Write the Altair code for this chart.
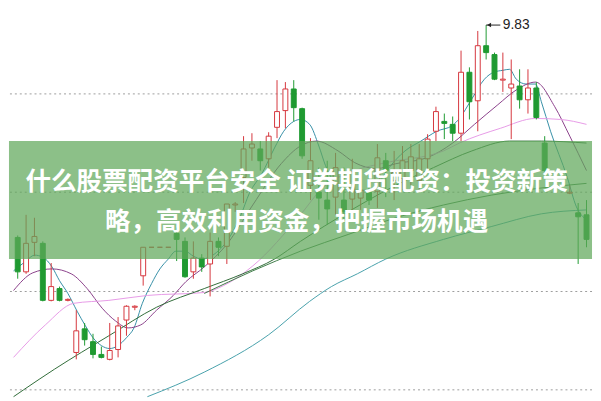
import altair as alt
import pandas as pd

# ---------------- data (prices) ----------------
cand_idx = list(range(64)) + [66, 67, 68]
opens = [8.75, 8.575, 8.725, 8.72, 8.43, 8.49, 8.43, 8.165, 8.285, 8.22,
         8.155, 8.13, 8.18, 8.33, 8.395, 8.555, 8.70, 8.70, 8.70, 8.77,
         8.73, 8.575, 8.645, 8.615, 8.73, 8.705, 8.915, 9.055, 9.205, 9.20,
         9.15, 9.31, 9.395, 9.505, 9.405, 9.015, 8.98, 8.94, 8.955, 8.94,
         8.945, 8.95, 8.98, 8.985, 9.14, 9.04, 9.05, 9.09, 9.04, 9.15,
         9.29, 9.34, 9.325, 9.28, 9.59, 9.445, 9.725, 9.68, 9.55, 9.51,
         9.52, 9.45, 9.51, 9.23, 8.975, 8.875, 8.865]
closes = [8.575, 8.72, 8.755, 8.43, 8.50, 8.43, 8.435, 8.275, 8.23, 8.155,
          8.14, 8.175, 8.30, 8.40, 8.40, 8.70, 8.70, 8.70, 8.70, 8.74,
          8.55, 8.645, 8.60, 8.73, 8.70, 8.92, 8.92, 9.20, 9.225, 9.14,
          9.265, 9.39, 9.505, 9.41, 9.165, 9.14, 8.95, 8.895, 9.105, 8.88,
          9.085, 8.99, 8.94, 9.155, 9.09, 9.08, 9.14, 9.16, 9.15, 9.25,
          9.39, 9.33, 9.28, 9.59, 9.44, 9.725, 9.69, 9.555, 9.555, 9.53,
          9.45, 9.51, 9.36, 9.09, 8.98, 8.855, 8.74]
highs = [8.76, 8.865, 8.85, 8.73, 8.62, 8.50, 8.44, 8.38, 8.315, 8.26,
         8.195, 8.315, 8.345, 8.405, 8.405, 8.70, 8.70, 8.70, 8.70, 8.80,
         8.75, 8.73, 8.665, 8.775, 8.75, 8.92, 8.93, 9.265, 9.28, 9.24,
         9.285, 9.55, 9.54, 9.55, 9.41, 9.255, 9.105, 9.14, 9.18, 9.105,
         9.15, 9.065, 9.065, 9.225, 9.18, 9.19, 9.215, 9.225, 9.225, 9.275,
         9.415, 9.38, 9.365, 9.70, 9.615, 9.80, 9.83, 9.69, 9.69, 9.655,
         9.605, 9.605, 9.54, 9.265, 9.015, 8.925, 8.94]
lows = [8.54, 8.565, 8.655, 8.425, 8.425, 8.425, 8.425, 8.13, 8.20, 8.135,
        8.135, 8.125, 8.14, 8.25, 8.38, 8.505, 8.70, 8.70, 8.70, 8.63,
        8.545, 8.54, 8.575, 8.45, 8.655, 8.615, 8.88, 8.925, 9.14, 9.09,
        9.105, 9.255, 9.305, 9.34, 9.15, 8.94, 8.84, 8.815, 8.865, 8.825,
        8.88, 8.89, 8.915, 8.90, 8.955, 8.94, 8.99, 9.015, 8.99, 9.08,
        9.24, 9.25, 9.24, 9.24, 9.35, 9.29, 9.655, 9.55, 9.49, 9.25,
        9.405, 9.38, 9.35, 9.08, 8.97, 8.615, 8.70]

ma5_idx = [-0.5, 1, 2, 3, 4.1, 5, 6, 7.1, 8.1, 9, 10, 11, 12, 13, 13.9, 14.9, 16, 17, 18, 18.9,
           20, 21, 22, 23.8, 25, 26.6, 27.7, 29.2, 30.7, 31.8, 33, 33.8, 34.9, 36, 36.8, 38.3,
           40, 41.7, 42.9, 44.4, 46.3, 48.2, 50.1, 52, 52.8, 54.3, 55.8, 56.9, 58, 58.8, 59.6,
           60.8, 61.9, 62.6, 63.7, 65.7, 66.8, 68]
ma5_val = [8.58, 8.63, 8.66, 8.65, 8.60, 8.53, 8.465, 8.375, 8.30, 8.24, 8.20, 8.185, 8.20, 8.24,
           8.29, 8.415, 8.515, 8.59, 8.64, 8.68, 8.68, 8.655, 8.64, 8.675, 8.73, 8.855, 8.975,
           9.075, 9.205, 9.29, 9.34, 9.35, 9.325, 9.215, 9.115, 9.015, 8.99, 8.99, 9.015, 9.105,
           9.19, 9.24, 9.29, 9.32, 9.355, 9.455, 9.555, 9.59, 9.60, 9.605, 9.555, 9.53, 9.53,
           9.44, 9.29, 9.055, 8.905, 8.84]

ma10_idx = [-0.5, 1.8, 4.1, 6.4, 8.3, 10.1, 11.7, 13.2, 14.7, 16.6, 18.6, 20.1, 22.3, 25.0, 28.1,
            31.5, 33.8, 35.7, 38.3, 40.3, 42.9, 45.2, 48.9, 52.0, 54.6, 57.4, 59.6, 61.9, 64.2,
            66.0, 68.0]
ma10_val = [8.48, 8.57, 8.59, 8.565, 8.49, 8.39, 8.325, 8.29, 8.305, 8.38, 8.455, 8.525, 8.60,
            8.715, 8.915, 9.125, 9.215, 9.24, 9.19, 9.13, 9.10, 9.125, 9.155, 9.23, 9.325, 9.425,
            9.50, 9.54, 9.415, 9.265, 9.09]

ma20_idx = [-0.5, 3.3, 6.7, 10.9, 15.5, 22.3, 24.6, 28.1, 33.8, 36.4, 40.3, 44.0, 50.9, 52.8,
            57.7, 61.9, 64.9, 68.0]
ma20_val = [8.14, 8.305, 8.415, 8.43, 8.455, 8.47, 8.505, 8.605, 8.865, 9.00, 9.09, 9.13, 9.19,
            9.23, 9.305, 9.355, 9.35, 9.325]

ma30_idx = [-0.5, 0.7, 4.4, 10.9, 16.6, 22.3, 26.9, 30.7, 33.8, 39.5, 45.2, 49.7, 54.3, 58.8,
            62.6, 68.0]
ma30_val = [7.94, 7.975, 8.08, 8.25, 8.395, 8.49, 8.565, 8.64, 8.73, 8.88, 9.015, 9.105, 9.19,
            9.24, 9.24, 9.23]

ma60_idx = [22.3, 28.1, 33.8, 39.5, 45.2, 50.9, 56.6, 62.3, 68.0]
ma60_val = [8.465, 8.58, 8.68, 8.765, 8.85, 8.915, 8.965, 9.00, 9.025]

ma120_idx = [15.5, 22.3, 30.0, 34.9, 37.5, 40.6, 44.0, 50.9, 56.6, 62.6, 68.0]
ma120_val = [7.94, 8.065, 8.255, 8.425, 8.50, 8.565, 8.64, 8.74, 8.805, 8.87, 8.89]

ma_names = ["MA5", "MA10", "MA20", "MA30", "MA60", "MA120"]
ma_colors = ["#358fa6", "#8a3f8a", "#e79ae7", "#2f6b37", "#3f7c48", "#46a0aa"]

grid_vals = [9.48, 8.98, 8.475, 7.975]

banner_band = {"top": 9.24, "bottom": 8.64}
title_lines = ["什么股票配资平台安全 证券期货配资：投资新策", "略，高效利用资金，把握市场机遇"]
title_prices = [9.03, 8.83]

# ---------------- build tables ----------------
candles = pd.DataFrame({"idx": cand_idx, "o": opens, "c": closes, "h": highs, "l": lows})
UP, DOWN = "#d5353c", "#1f9a31"
candles["col"] = [UP if c >= o else DOWN for o, c in zip(candles.o, candles.c)]
candles["fillc"] = ["#ffffff" if c >= o else DOWN for o, c in zip(candles.o, candles.c)]

series = [(ma5_idx, ma5_val), (ma10_idx, ma10_val), (ma20_idx, ma20_val),
          (ma30_idx, ma30_val), (ma60_idx, ma60_val), (ma120_idx, ma120_val)]
lines = pd.concat([
    pd.DataFrame({"idx": xi, "p": yi, "name": n, "ord": range(len(xi))})
    for n, (xi, yi) in zip(ma_names, series)
], ignore_index=True)

peak = candles.loc[candles.h.idxmax()]
ann = pd.DataFrame({"idx": [peak.idx], "p": [peak.h], "x2": [peak.idx + 1.7],
                    "label": [f"{peak.h:.2f}"]})

W, H = 593, 393
xs = alt.Scale(domain=[-0.456, 68.07], nice=False, zero=False)
ys = alt.Scale(domain=[7.935, 9.90], nice=False, zero=False)
X = lambda f: alt.X(f"{f}:Q", scale=xs, axis=None)
Y = lambda f: alt.Y(f"{f}:Q", scale=ys, axis=None)

grid = alt.Chart(pd.DataFrame({"p": grid_vals})).mark_rule(
    strokeDash=[2, 3], color="#9c9c9c", strokeWidth=1
).encode(y=Y("p"))

ma = alt.Chart(lines).mark_line(strokeWidth=1, interpolate="monotone", clip=True).encode(
    x=X("idx"), y=Y("p"),
    color=alt.Color("name:N", scale=alt.Scale(domain=ma_names, range=ma_colors), legend=None),
    detail="name:N", order="ord:Q",
)

wick = alt.Chart(candles).mark_rule(strokeWidth=1, clip=True).encode(
    x=X("idx"), y=Y("l"), y2="h", color=alt.Color("col:N", scale=None)
)
body = alt.Chart(candles).mark_bar(size=5, strokeWidth=1, clip=True).encode(
    x=X("idx"), y=Y("o"), y2="c",
    fill=alt.Fill("fillc:N", scale=None), stroke=alt.Stroke("col:N", scale=None),
)

lead = alt.Chart(ann).mark_rule(color="#222222", strokeWidth=1).encode(
    x=X("idx"), x2="x2", y=Y("p")
)
arrow = alt.Chart(ann).mark_point(shape="triangle-left", filled=True, size=22,
                                   color="#222222", opacity=1, xOffset=3).encode(
    x=X("idx"), y=Y("p")
)
label = alt.Chart(ann).mark_text(align="left", baseline="middle", dx=17, fontSize=14,
                                  font="Liberation Sans", color="#222222").encode(
    x=X("idx"), y=Y("p"), text="label:N"
)

banner = alt.Chart(pd.DataFrame([banner_band])).mark_rect(
    color="#5fa85a", opacity=0.72
).encode(x=alt.value(0), x2=alt.value(W), y=Y("top"), y2="bottom")

titles = alt.Chart(pd.DataFrame({"t": title_lines, "p": title_prices})).mark_text(
    align="center", baseline="middle", fontSize=26, fontWeight="bold",
    font="Noto Sans CJK SC", color="#ffffff"
).encode(x=alt.value(W / 2 - 4), y=Y("p"), text="t:N")

chart = alt.layer(grid, ma, wick, body, lead, arrow, label, banner, titles).properties(
    width=W, height=H, padding=0, background="#ffffff"
).configure_view(stroke=None)

chart.save("out.html", embed_options={"renderer": "svg", "actions": False})
